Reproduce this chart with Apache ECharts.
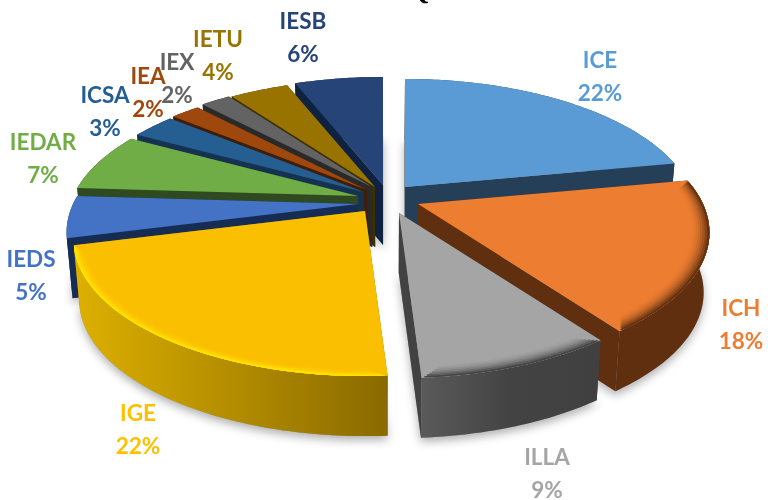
<!DOCTYPE html>
<html><head><meta charset="utf-8">
<style>html,body{margin:0;padding:0;background:#fff}#c{width:768px;height:500px}</style>
<script src="https://cdn.jsdelivr.net/npm/echarts@6/dist/echarts.min.js"></script>
</head><body><div id="c"></div>
<script>
var categories = ['ICE','ICH','ILLA','IGE','IEDS','IEDAR','ICSA','IEA','IEX','IETU','IESB'];
var values = [22,18,9,22,5,7,3,2,2,4,6];
var titleFragment = 'Q';

// styling and layout, per category
var topColors  = ['#5B9BD5','#ED7D31','#A5A5A5','#FBBF02','#4472C4','#70AD47','#255E91','#9E480E','#636363','#997300','#264478'];
var wallColors = ['#243F57','#5F2F10','#424242','#8F6D00','#172C52','#2F4A20','#153350','#3F1D08','#2A2A2A','#3D2F00','#0F2241'];
var labelColors= ['#5B9BD5','#ED7D31','#A5A5A5','#FFC000','#4472C4','#70AD47','#255E91','#9E480E','#636363','#997300','#264478'];
var apex = [[405,187],[418,204],[399,213],[365,211],[358,204],[358,196],[364,192],[367,190],[372,187],[375,187],[383,185]];
var labelAt = [[600,61],[741,309],[547,458],[138,414],[31,260],[43,143],[105,96],[148,77],[177,63],[218,40],[303,22]];
var rimColors = [null,'#5F2F10','#424242','#FFE600',null,null,null,null,null,null,null];
var rimWidths = [0,0.06,0.06,0.035,0,0,0,0,0,0,0];
var drawOrder = [0,10,9,8,7,6,5,4,1,2,3];

var RX = 285, RY = 130.6, PERSP = 0.209, DEPTH = 60, TAPER = 0.982, AXISX = 385;
var total = values.reduce(function(a,b){return a+b;},0);
var starts = [];
values.reduce(function(acc,v,i){starts[i]=acc;return acc+v;},0);

function project(i, r, a){
  var X = r*Math.sin(a), Y = r*Math.cos(a), w = 1+PERSP*Y;
  return [apex[i][0]+RX*X/w, apex[i][1]-RY*Y/w];
}
function arc(i, r, a0, a1, n){
  var pts=[];
  for(var k=0;k<=n;k++){ pts.push(project(i,r,a0+(a1-a0)*k/n)); }
  return pts;
}
function down(p){ return [AXISX+(p[0]-AXISX)*TAPER,p[1]+DEPTH]; }
function mix(c1,c2,t){
  var a=parseInt(c1.slice(1),16),b=parseInt(c2.slice(1),16);
  var f=function(s){return Math.round(((a>>s)&255)*(1-t)+((b>>s)&255)*t);};
  return 'rgb('+f(16)+','+f(8)+','+f(0)+')';
}
function angles(i,v){ return [starts[i]/total*2*Math.PI,(starts[i]+v)/total*2*Math.PI]; }
function shadowItem(params, api){
  var i = api.value(0), v = api.value(1), an = angles(i,v);
  var pts = [project(i,0,0)].concat(arc(i,1,an[0],an[1],Math.max(8,v*4))).map(down);
  return {type:'polygon',shape:{points:pts},style:{fill:'#999',shadowBlur:10,shadowColor:'rgba(0,0,0,0.32)',shadowOffsetY:4}};
}
function sliceItem(params, api){
  var i = api.value(0), v = api.value(1), an = angles(i,v), a0=an[0], a1=an[1];
  var n = Math.max(8,Math.round(v*4));
  var outer = arc(i,1,a0,a1,n), tip = project(i,0,0);
  var wall = wallColors[i];
  var outerFill = wall;
  if(i===3){ outerFill={type:'linear',x:0,y:0,x2:1,y2:0,colorStops:[{offset:0,color:'#DDB000'},{offset:1,color:'#8A6A00'}]}; }
  if(i===2){ outerFill={type:'linear',x:0,y:0,x2:1,y2:0,colorStops:[{offset:0,color:'#5A5A5A'},{offset:.5,color:'#434343'},{offset:1,color:'#404040'}]}; }
  var kids = [];
  kids.push({type:'polygon',shape:{points:[tip,outer[0],down(outer[0]),down(tip)]},style:{fill:wall}});
  kids.push({type:'polygon',shape:{points:[tip,outer[n],down(outer[n]),down(tip)]},style:{fill:wall}});
  kids.push({type:'polygon',shape:{points:outer.concat(outer.slice().reverse().map(down))},style:{fill:outerFill}});
  kids.push({type:'polygon',shape:{points:[tip].concat(outer)},style:{fill:topColors[i]}});
  if(rimColors[i]){
    var bands=8, w=rimWidths[i];
    for(var b=0;b<bands;b++){
      var r0=1-w*(1-b/bands), t=(b+1)/bands, inset=0.008*(bands-b);
      var inner=arc(i,r0,a0+inset,a1-inset,n), ed=arc(i,1,a0+inset,a1-inset,n);
      kids.push({type:'polygon',shape:{points:inner.concat(ed.reverse())},style:{fill:mix(topColors[i],rimColors[i],t*t*0.95)}});
    }
  }
  return {type:'group',children:kids};
}
function labelItem(params, api){
  var i = api.value(0);
  var base = {fill:labelColors[i],font:'bold 22.5px Lato, "Open Sans", sans-serif',align:'center',verticalAlign:'middle'};
  return {type:'group',children:[
    {type:'text',x:labelAt[i][0],y:labelAt[i][1],style:Object.assign({text:categories[i]},base)},
    {type:'text',x:labelAt[i][0],y:labelAt[i][1]+33,style:Object.assign({text:values[i]+'%'},base)}
  ]};
}
var chart = echarts.init(document.getElementById('c'),null,{renderer:'canvas'});
var rows = function(order){return order.map(function(i){return [i,values[i]];});};
chart.setOption({
  animation:false,
  backgroundColor:'#fff',
  graphic:[{type:'text',x:409,y:-21,style:{text:titleFragment,fill:'#000',font:'bold 26px "Liberation Serif", serif'}}],
  series:[
    {type:'custom',coordinateSystem:'none',silent:true,renderItem:shadowItem,data:rows(drawOrder)},
    {type:'custom',coordinateSystem:'none',silent:true,renderItem:sliceItem,data:rows(drawOrder)},
    {type:'custom',coordinateSystem:'none',silent:true,renderItem:labelItem,data:rows(categories.map(function(c,i){return i;}))}
  ]
});
</script></body></html>
